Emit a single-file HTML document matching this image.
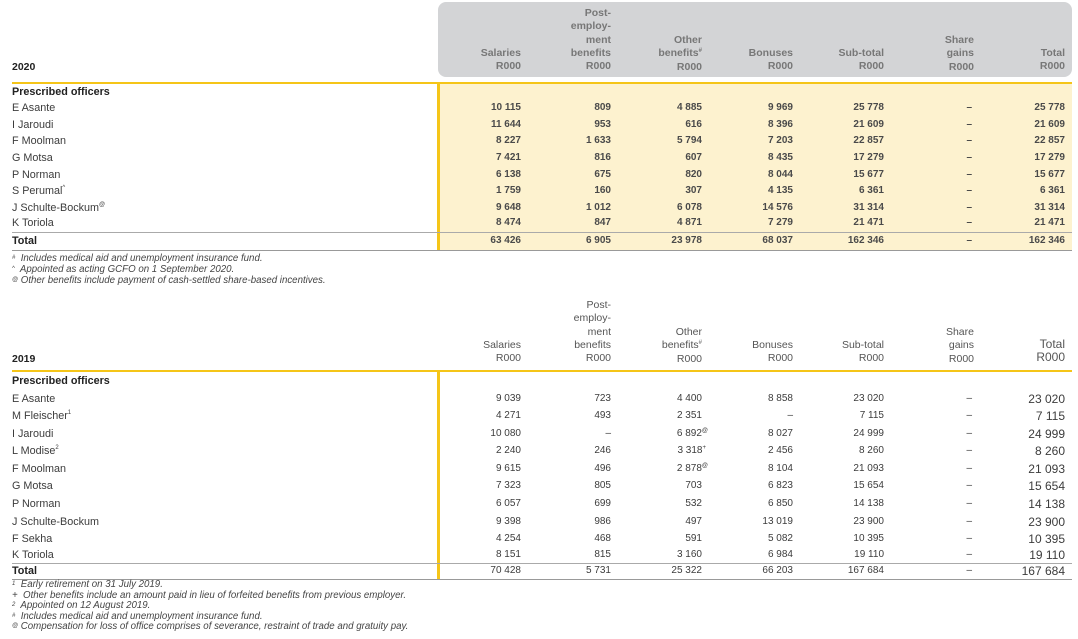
<!DOCTYPE html>
<html><head><meta charset="utf-8"><style>
body{margin:0;width:1078px;height:639px;background:#fff;position:relative;overflow:hidden;font-family:"Liberation Sans",sans-serif;color:#3c3c3c}
.abs{position:absolute}
.r{position:absolute;left:0;width:1078px;height:14px;line-height:14px;font-size:10px}
.r span{position:absolute;white-space:nowrap}
.r span.n{font-size:10.8px}
.n{left:12px}
.a{right:557px}.b{right:467px}.c{right:376px}.d{right:285px}.e{right:194px}.f{right:106px}.g{right:13px}
.t20 span:not(.n){font-weight:bold;color:#4a4a4a}
.h{font-size:10.5px;font-weight:bold;color:#777;text-align:right}
.h2{font-size:10.5px;color:#555;text-align:right}
.bold{font-weight:bold;color:#222}
.fn{position:absolute;left:12px;font-size:9.7px;font-style:italic;color:#444;white-space:nowrap;line-height:10px}
sup{font-size:6px;vertical-align:top;line-height:8px}
.big span.g{font-size:12px;top:0px}
</style></head><body>
<!-- 2020 -->
<div class="abs" style="left:438px;top:2px;width:634px;height:75px;background:#d3d4d6;border-radius:8px"></div>
<div class="abs" style="left:438px;top:83px;width:634px;height:167px;background:#fdf2cf"></div>
<div class="abs" style="left:12px;top:82px;width:1060px;height:2px;background:#f5c518"></div>
<div class="abs" style="left:437px;top:83px;width:3px;height:168px;background:#f5c518"></div>
<div class="abs" style="left:12px;top:232px;width:1060px;height:1px;background:#aaa"></div>
<div class="abs" style="left:12px;top:250px;width:1060px;height:1px;background:#999"></div>
<div class="abs bold" style="left:12px;top:61px;font-size:10.5px">2020</div>
<div class="abs h" style="right:557px;top:47px;line-height:13px">Salaries<br>R000</div>
<div class="abs h" style="right:467px;top:7px;line-height:13.3px">Post-<br>employ-<br>ment<br>benefits<br>R000</div>
<div class="abs h" style="right:376px;top:34px;line-height:13.3px">Other<br>benefits<sup>#</sup><br>R000</div>
<div class="abs h" style="right:285px;top:47px;line-height:13px">Bonuses<br>R000</div>
<div class="abs h" style="right:194px;top:47px;line-height:13px">Sub-total<br>R000</div>
<div class="abs h" style="right:104px;top:34px;line-height:13.3px">Share<br>gains<br>R000</div>
<div class="abs h" style="right:13px;top:47px;line-height:13px">Total<br>R000</div>
<div class="r" style="top:85px"><span class="n bold">Prescribed officers</span></div>
<div class="r t20" style="top:101px"><span class="n">E Asante</span><span class="a">10 115</span><span class="b">809</span><span class="c">4 885</span><span class="d">9 969</span><span class="e">25 778</span><span class="f">–</span><span class="g">25 778</span></div>
<div class="r t20" style="top:118px"><span class="n">I Jaroudi</span><span class="a">11 644</span><span class="b">953</span><span class="c">616</span><span class="d">8 396</span><span class="e">21 609</span><span class="f">–</span><span class="g">21 609</span></div>
<div class="r t20" style="top:134px"><span class="n">F Moolman</span><span class="a">8 227</span><span class="b">1 633</span><span class="c">5 794</span><span class="d">7 203</span><span class="e">22 857</span><span class="f">–</span><span class="g">22 857</span></div>
<div class="r t20" style="top:151px"><span class="n">G Motsa</span><span class="a">7 421</span><span class="b">816</span><span class="c">607</span><span class="d">8 435</span><span class="e">17 279</span><span class="f">–</span><span class="g">17 279</span></div>
<div class="r t20" style="top:168px"><span class="n">P Norman</span><span class="a">6 138</span><span class="b">675</span><span class="c">820</span><span class="d">8 044</span><span class="e">15 677</span><span class="f">–</span><span class="g">15 677</span></div>
<div class="r t20" style="top:184px"><span class="n">S Perumal<sup>^</sup></span><span class="a">1 759</span><span class="b">160</span><span class="c">307</span><span class="d">4 135</span><span class="e">6 361</span><span class="f">–</span><span class="g">6 361</span></div>
<div class="r t20" style="top:201px"><span class="n">J Schulte-Bockum<sup>@</sup></span><span class="a">9 648</span><span class="b">1 012</span><span class="c">6 078</span><span class="d">14 576</span><span class="e">31 314</span><span class="f">–</span><span class="g">31 314</span></div>
<div class="r t20" style="top:216px"><span class="n">K Toriola</span><span class="a">8 474</span><span class="b">847</span><span class="c">4 871</span><span class="d">7 279</span><span class="e">21 471</span><span class="f">–</span><span class="g">21 471</span></div>
<div class="r t20" style="top:234px"><span class="n bold">Total</span><span class="a">63 426</span><span class="b">6 905</span><span class="c">23 978</span><span class="d">68 037</span><span class="e">162 346</span><span class="f">–</span><span class="g">162 346</span></div>
<div class="fn" style="top:254px"><sup>#</sup>&nbsp; Includes medical aid and unemployment insurance fund.</div>
<div class="fn" style="top:265px"><sup>^</sup>&nbsp; Appointed as acting GCFO on 1 September 2020.</div>
<div class="fn" style="top:276px"><sup>@</sup> Other benefits include payment of cash-settled share-based incentives.</div>
<!-- 2019 -->
<div class="abs" style="left:12px;top:370px;width:1060px;height:2px;background:#f5c518"></div>
<div class="abs" style="left:437px;top:371px;width:3px;height:208px;background:#f5c518"></div>
<div class="abs" style="left:12px;top:563px;width:1060px;height:1px;background:#aaa"></div>
<div class="abs" style="left:12px;top:579px;width:1060px;height:1px;background:#999"></div>
<div class="abs bold" style="left:12px;top:353px;font-size:10.5px">2019</div>
<div class="abs h2" style="right:557px;top:339px;line-height:13px">Salaries<br>R000</div>
<div class="abs h2" style="right:467px;top:299px;line-height:13.3px">Post-<br>employ-<br>ment<br>benefits<br>R000</div>
<div class="abs h2" style="right:376px;top:326px;line-height:13.3px">Other<br>benefits<sup>#</sup><br>R000</div>
<div class="abs h2" style="right:285px;top:339px;line-height:13px">Bonuses<br>R000</div>
<div class="abs h2" style="right:194px;top:339px;line-height:13px">Sub-total<br>R000</div>
<div class="abs h2" style="right:104px;top:326px;line-height:13.3px">Share<br>gains<br>R000</div>
<div class="abs h2" style="right:13px;top:338px;line-height:13px;font-size:12px">Total<br>R000</div>
<div class="r" style="top:374px"><span class="n bold">Prescribed officers</span></div>
<div class="r big" style="top:392px"><span class="n">E Asante</span><span class="a">9 039</span><span class="b">723</span><span class="c">4 400</span><span class="d">8 858</span><span class="e">23 020</span><span class="f">–</span><span class="g">23 020</span></div>
<div class="r big" style="top:409px"><span class="n">M Fleischer<sup>1</sup></span><span class="a">4 271</span><span class="b">493</span><span class="c">2 351</span><span class="d">–</span><span class="e">7 115</span><span class="f">–</span><span class="g">7 115</span></div>
<div class="r big" style="top:427px"><span class="n">I Jaroudi</span><span class="a">10 080</span><span class="b">–</span><span class="c" style="right:370px">6 892<sup>@</sup></span><span class="d">8 027</span><span class="e">24 999</span><span class="f">–</span><span class="g">24 999</span></div>
<div class="r big" style="top:444px"><span class="n">L Modise<sup>2</sup></span><span class="a">2 240</span><span class="b">246</span><span class="c" style="right:372px">3 318<sup>+</sup></span><span class="d">2 456</span><span class="e">8 260</span><span class="f">–</span><span class="g">8 260</span></div>
<div class="r big" style="top:462px"><span class="n">F Moolman</span><span class="a">9 615</span><span class="b">496</span><span class="c" style="right:370px">2 878<sup>@</sup></span><span class="d">8 104</span><span class="e">21 093</span><span class="f">–</span><span class="g">21 093</span></div>
<div class="r big" style="top:479px"><span class="n">G Motsa</span><span class="a">7 323</span><span class="b">805</span><span class="c">703</span><span class="d">6 823</span><span class="e">15 654</span><span class="f">–</span><span class="g">15 654</span></div>
<div class="r big" style="top:497px"><span class="n">P Norman</span><span class="a">6 057</span><span class="b">699</span><span class="c">532</span><span class="d">6 850</span><span class="e">14 138</span><span class="f">–</span><span class="g">14 138</span></div>
<div class="r big" style="top:515px"><span class="n">J Schulte-Bockum</span><span class="a">9 398</span><span class="b">986</span><span class="c">497</span><span class="d">13 019</span><span class="e">23 900</span><span class="f">–</span><span class="g">23 900</span></div>
<div class="r big" style="top:532px"><span class="n">F Sekha</span><span class="a">4 254</span><span class="b">468</span><span class="c">591</span><span class="d">5 082</span><span class="e">10 395</span><span class="f">–</span><span class="g">10 395</span></div>
<div class="r big" style="top:548px"><span class="n">K Toriola</span><span class="a">8 151</span><span class="b">815</span><span class="c">3 160</span><span class="d">6 984</span><span class="e">19 110</span><span class="f">–</span><span class="g">19 110</span></div>
<div class="r big" style="top:564px"><span class="n bold">Total</span><span class="a">70 428</span><span class="b">5 731</span><span class="c">25 322</span><span class="d">66 203</span><span class="e">167 684</span><span class="f">–</span><span class="g">167 684</span></div>
<div class="fn" style="top:580px"><sup>1</sup>&nbsp; Early retirement on 31 July 2019.</div>
<div class="fn" style="top:591px">+&nbsp; Other benefits include an amount paid in lieu of forfeited benefits from previous employer.</div>
<div class="fn" style="top:601px"><sup>2</sup>&nbsp; Appointed on 12 August 2019.</div>
<div class="fn" style="top:612px"><sup>#</sup>&nbsp; Includes medical aid and unemployment insurance fund.</div>
<div class="fn" style="top:622px"><sup>@</sup> Compensation for loss of office comprises of severance, restraint of trade and gratuity pay.</div>
</body></html>
